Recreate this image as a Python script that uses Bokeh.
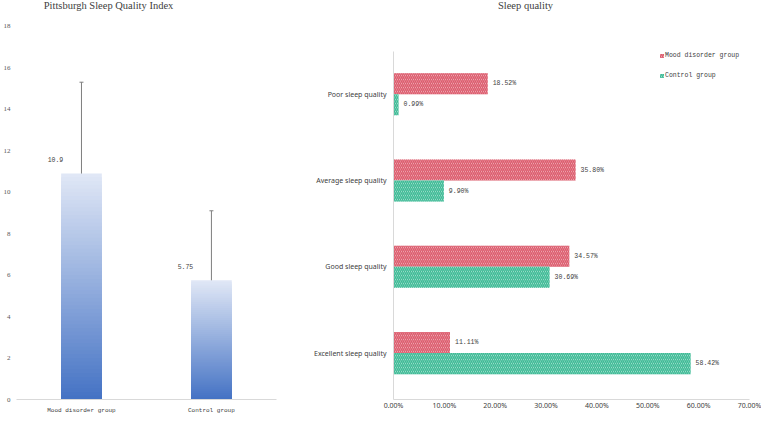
from bokeh.plotting import figure
from bokeh.models import (Range1d, FixedTicker, LinearAxis, Whisker, TeeHead,
                          ColumnDataSource, LabelSet, Label, Legend, LegendItem,
                          NumeralTickFormatter)
from bokeh.layouts import row
from bokeh.core.properties import value
from bokeh.embed import file_html
from bokeh.resources import INLINE

# ---------------- data ----------------
groups = ["Mood disorder group", "Control group"]
psqi_mean = [10.9, 5.75]
psqi_sd = [4.4, 3.35]
psqi_labels = ["10.9", "5.75"]
psqi_ticks = [0, 2, 4, 6, 8, 10, 12, 14, 16, 18]

categories = ["Poor sleep quality", "Average sleep quality", "Good sleep quality", "Excellent sleep quality"]
mood_pct = [18.52, 35.80, 34.57, 11.11]
control_pct = [0.99, 9.90, 30.69, 58.42]
pct_ticks = [0, 10, 20, 30, 40, 50, 60, 70]

SERIF = "Liberation Serif"
MONO = "Liberation Mono"
SANS = "Noto Sans"

def style_axis(ax, font, size, color, standoff):
    ax.major_tick_line_color = None
    ax.minor_tick_line_color = None
    ax.major_tick_out = 0
    ax.major_tick_in = 0
    ax.minor_tick_out = 0
    ax.minor_tick_in = 0
    ax.major_label_text_font = font
    ax.major_label_text_font_size = size
    ax.major_label_text_color = color
    ax.major_label_standoff = standoff

# ---------------- left panel ----------------
p1 = figure(width=311, height=416, output_backend="svg", toolbar_location=None,
            x_range=Range1d(0, 2.27), y_range=Range1d(0, 19.24),
            min_border_left=13, min_border_right=0, min_border_top=0, min_border_bottom=15)
p1.outline_line_color = None
p1.grid.visible = False

xpos = [i + 0.5 for i in range(len(groups))]

def lerp(c1, c2, t):
    a = [int(c1[i:i + 2], 16) for i in (1, 3, 5)]
    b = [int(c2[i:i + 2], 16) for i in (1, 3, 5)]
    return "#%02x%02x%02x" % tuple(round(a[k] + (b[k] - a[k]) * t) for k in range(3))

# gradient bars: nested bars from full height (lightest) down to the darkest base
N = 60
gx, gt, gc = [], [], []
for x, v in zip(xpos, psqi_mean):
    for i in range(N, 0, -1):
        gx.append(x)
        gt.append(v * i / N)
        gc.append(lerp("#4472c4", "#e1e8f6", (i - 0.5) / N))
p1.vbar(x=gx, bottom=0, top=gt, width=0.313, fill_color=gc, line_color=None)

err_src = ColumnDataSource(dict(x=xpos,
                                upper=[m + s for m, s in zip(psqi_mean, psqi_sd)],
                                lower=[m - s for m, s in zip(psqi_mean, psqi_sd)],
                                top=psqi_mean, label=psqi_labels))
p1.add_layout(Whisker(base="x", upper="upper", lower="lower", source=err_src,
                      line_color="#7f7f7f", line_width=1,
                      upper_head=TeeHead(size=4, line_color="#7f7f7f", line_width=1),
                      lower_head=TeeHead(size=4, line_color="#7f7f7f", line_width=1)))
p1.add_layout(LabelSet(x="x", y="top", text="label", source=err_src, x_offset=-26, y_offset=14,
                       text_align="center", text_baseline="middle",
                       text_font=value(MONO), text_font_size="6.5px", text_color="#404040"))

p1.xaxis.ticker = FixedTicker(ticks=xpos)
p1.xaxis.major_label_overrides = {x: g for x, g in zip(xpos, groups)}
p1.xaxis.bounds = (0, len(groups))
p1.xaxis.axis_line_color = "#d9d9d9"
style_axis(p1.xaxis[0], MONO, "6px", "#404040", 7)

p1.yaxis.ticker = FixedTicker(ticks=psqi_ticks)
p1.yaxis.axis_line_color = None
style_axis(p1.yaxis[0], SERIF, "7px", "#595959", 6)

sep = LinearAxis(axis_line_color="#e6e6e6", ticker=FixedTicker(ticks=[]))
style_axis(sep, SERIF, "7px", "#595959", 0)
p1.add_layout(sep, "right")

p1.add_layout(Label(x=92, y=394, x_units="screen", y_units="screen",
                    text="Pittsburgh Sleep Quality Index", text_align="center", text_baseline="middle",
                    text_font=SERIF, text_font_size="10.5px", text_color="#404040"))

# ---------------- right panel ----------------
ypos = [len(categories) - i - 0.5 for i in range(len(categories))]
bh = 0.244
y0 = -0.038
p2 = figure(width=450, height=416, output_backend="svg", toolbar_location=None,
            y_range=Range1d(y0, 4.587), x_range=Range1d(0, 0.70),
            min_border_left=81, min_border_right=12, min_border_top=0, min_border_bottom=15)
p2.outline_line_color = None
p2.grid.visible = False

src2 = ColumnDataSource(dict(cat=categories,
                             y_mood=[y + bh / 2 for y in ypos],
                             y_ctrl=[y - bh / 2 for y in ypos],
                             mood=[v / 100 for v in mood_pct],
                             ctrl=[v / 100 for v in control_pct],
                             mood_lbl=["%.2f%%" % v for v in mood_pct],
                             ctrl_lbl=["%.2f%%" % v for v in control_pct]))
r_mood = p2.hbar(y="y_mood", right="mood", height=bh, source=src2,
                 fill_color="#f3c9ce", line_color=None, hatch_pattern="\\",
                 hatch_color="#dc5a6c", hatch_scale=4, hatch_weight=1.5)
r_ctrl = p2.hbar(y="y_ctrl", right="ctrl", height=bh, source=src2,
                 fill_color="#c4ece0", line_color=None, hatch_pattern="\\",
                 hatch_color="#3dba95", hatch_scale=4, hatch_weight=1.5)
p2.text(x="mood", y="y_mood", text="mood_lbl", source=src2,
        x_offset=5, text_baseline="middle", text_align="left",
        text_font=value(MONO), text_font_size="6.5px", text_color="#404040")
p2.text(x="ctrl", y="y_ctrl", text="ctrl_lbl", source=src2,
        x_offset=5, text_baseline="middle", text_align="left",
        text_font=value(MONO), text_font_size="6.5px", text_color="#404040")

p2.xaxis.ticker = FixedTicker(ticks=[t / 100 for t in pct_ticks])
p2.xaxis.formatter = NumeralTickFormatter(format="0.00%")
p2.xaxis.axis_line_color = "#d9d9d9"
style_axis(p2.xaxis[0], SANS, "7px", "#404040", 1)

p2.yaxis.ticker = FixedTicker(ticks=ypos)
p2.yaxis.major_label_overrides = {y: c for y, c in zip(ypos, categories)}
p2.yaxis.bounds = (y0, len(categories))
p2.yaxis.axis_line_color = "#d9d9d9"
style_axis(p2.yaxis[0], SANS, "7px", "#404040", 7)

legend = Legend(items=[LegendItem(label="Mood disorder group", renderers=[r_mood]),
                       LegendItem(label="Control group", renderers=[r_ctrl])],
                location=(266, 320), orientation="vertical",
                glyph_width=5, glyph_height=5, label_height=8, label_standoff=1,
                spacing=12, padding=0, margin=0,
                border_line_color=None, background_fill_alpha=0,
                label_text_font=MONO, label_text_font_size="6.5px", label_text_color="#404040")
p2.add_layout(legend)

p2.add_layout(Label(x=132, y=394, x_units="screen", y_units="screen",
                    text="Sleep quality", text_align="center", text_baseline="middle",
                    text_font=SERIF, text_font_size="10.5px", text_color="#404040"))

layout = row(p1, p2)
open("out.html", "w").write(file_html(layout, INLINE))
